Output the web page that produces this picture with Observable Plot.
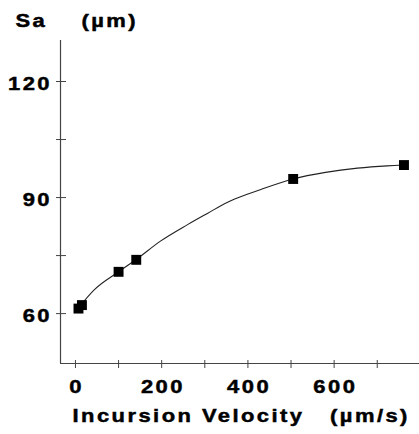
<!DOCTYPE html>
<html>
<head>
<meta charset="utf-8">
<script src="https://cdn.jsdelivr.net/npm/d3@7"></script>
<script src="https://cdn.jsdelivr.net/npm/@observablehq/plot@0.6"></script>
<style>
  html, body { margin: 0; padding: 0; background: #fff; }
  #chart svg { display: block; }
</style>
</head>
<body>
<div id="chart"></div>
<script>
// Measured data points (Incursion Velocity µm/s, Sa µm)
const velocity = [7, 15, 100, 141, 505, 762];
const sa = [61.3, 62.2, 70.8, 73.9, 94.8, 98.4];

// Fitted curve
const curveVelocity = [7, 44, 100, 141, 198, 260, 306, 353, 400, 430, 505, 580, 654, 723, 762];
const curveSa = [61.5, 66.2, 70.8, 74.0, 78.8, 83.0, 85.9, 88.8, 90.9, 92.1, 94.8, 96.5, 97.6, 98.2, 98.4];

// Axis ticks and labels
const xTicks = [0, 100, 200, 300, 400, 500, 600, 700];
const xLabels = [0, 200, 400, 600];
const yTicks = [60, 75, 90, 105, 120];
const yLabels = [60, 90, 120];
const xDomain = [-34.7, 798];
const yDomain = [47.1, 130.6];
const yTitle = "Sa    (µm)";
const xTitle = "Incursion Velocity   (µm/s)";

const points = velocity.map((v, i) => ({v, s: sa[i]}));
const curve = curveVelocity.map((v, i) => ({v, s: curveSa[i]}));

const font = {fontFamily: "Liberation Sans", fontWeight: "bold", fontSize: 18};

const chart = Plot.plot({
  width: 419,
  height: 434,
  marginLeft: 60,
  marginRight: 0,
  marginTop: 40,
  marginBottom: 71,
  style: {fontFamily: "Liberation Sans", color: "#000", background: "#fff", letterSpacing: "2px"},
  x: {domain: xDomain},
  y: {domain: yDomain},
  marks: [
    Plot.ruleX([xDomain[0]], {stroke: "#444", strokeWidth: 1.2}),
    Plot.ruleY([yDomain[0]], {stroke: "#444", strokeWidth: 1.2}),
    Plot.axisY({ticks: yTicks, tickSize: 10, dx: 6, tickFormat: () => "", label: null, stroke: "#444"}),
    Plot.axisY({ticks: yLabels, tickSize: 0, tickPadding: 8.5, dy: 3, label: null, ...font, className: "wide-tick"}),
    Plot.axisX({ticks: xTicks, tickSize: 8, dy: -3, tickFormat: () => "", label: null, stroke: "#444"}),
    Plot.axisX({ticks: xLabels, tickSize: 0, tickPadding: 17, dx: 1.2, label: null, ...font, className: "wide-tick"}),
    Plot.line(curve, {x: "v", y: "s", curve: "monotone-x", stroke: "#222", strokeWidth: 1.1}),
    Plot.dot(points, {x: "v", y: "s", symbol: "square", r: 5.6, fill: "#000", stroke: "none"}),
    Plot.text([yTitle], {frameAnchor: "top-left", text: d => d, textAnchor: "start", dx: -45, dy: -26, ...font, className: "wide-title"}),
    Plot.text([xTitle], {frameAnchor: "bottom", text: d => d, textAnchor: "middle", dx: 1.2, dy: 58, ...font, className: "wide-title"})
  ]
});
document.getElementById("chart").appendChild(chart);

// Horizontally widened, heavy bold lettering, as in the reference
function widen(selector, k) {
  chart.querySelectorAll(selector).forEach(t => {
    const L = t.getComputedTextLength();
    if (L > 0) {
      t.setAttribute("textLength", (L * k).toFixed(1));
      t.setAttribute("lengthAdjust", "spacingAndGlyphs");
      t.style.stroke = "#000";
      t.style.strokeWidth = "0.45px";
    }
  });
}
widen(".wide-tick text", 1.22);
widen(".wide-title text", 1.22);
</script>
</body>
</html>
